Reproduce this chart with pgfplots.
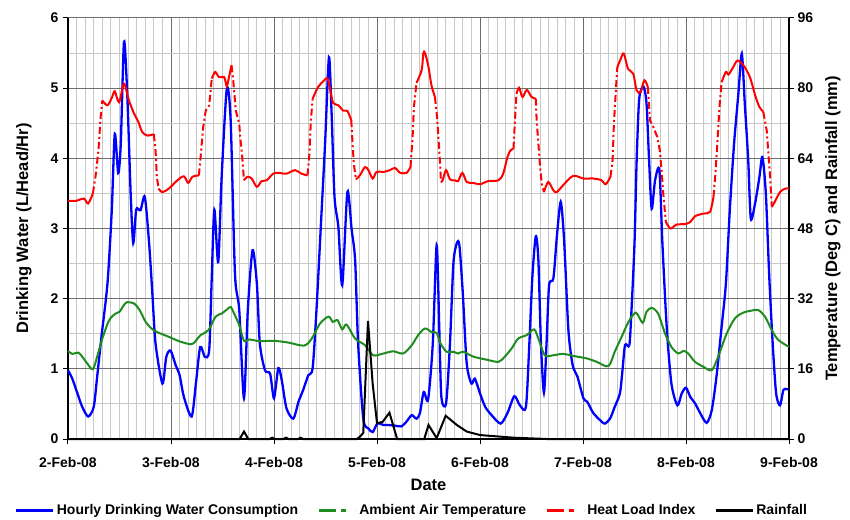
\documentclass[border=0pt]{standalone}
\usepackage{fontspec}
\setmainfont{Liberation Sans}
\usepackage{pgfplots}
\pgfplotsset{compat=1.18}

\definecolor{hwblue}{RGB}{0,0,255}
\definecolor{airgreen}{RGB}{30,140,30}
\definecolor{hlired}{RGB}{255,0,0}
\definecolor{gridmajor}{RGB}{110,110,110}
\definecolor{gridminor}{RGB}{200,200,200}

\pgfplotsset{
  base/.style={
    scale only axis, width=721pt, height=421pt,
    xmin=0, xmax=168,
    xtick={0,24,...,168},
    tick align=outside,
    major tick length=5pt, minor tick length=0pt,
    tick style={black, line width=1pt},
    tick label style={font=\fontsize{14}{16}\selectfont\bfseries},
    label style={font=\fontsize{16.5}{19}\selectfont\bfseries},
    /pgf/number format/assume math mode=true,
    axis line style={black, line width=1.2pt},
    clip=false,
  },
}

\begin{document}
\begin{tikzpicture}
\useasboundingbox (-68pt,-80pt) rectangle (782pt,439pt);

% primary axis: drinking water
\begin{axis}[base,
  axis x line*=bottom, axis y line*=left,
  ymin=0, ymax=6, ytick={0,1,...,6},
  minor x tick num=11, minor y tick num=1,
  grid=both,
  major grid style={gridmajor, line width=1pt},
  minor grid style={gridminor, line width=1pt},
  xticklabels={2-Feb-08,3-Feb-08,4-Feb-08,5-Feb-08,6-Feb-08,7-Feb-08,8-Feb-08,9-Feb-08},
  xticklabel style={yshift=-10pt},
  yticklabel style={xshift=-1pt},
  xlabel={Date},
  xlabel style={at={(axis description cs:0.5,-0.109)}, anchor=center},
  ylabel={Drinking Water (L/Head/Hr)},
  ylabel style={at={(axis description cs:-0.061,0.5)}, anchor=center},
]
\addplot[hwblue, line width=2.3pt, smooth, tension=0.45] coordinates {
(0,0.98) (1,0.86) (2.2,0.65) (3.3,0.46) (4.7,0.32) (6,0.46) (6.8,0.89) (7.8,1.46)
(9.2,2.22) (10.2,3.26) (10.9,4.35) (11.7,3.79) (12.3,4.21) (13.05,5.66) (13.8,4.92)
(14.6,3.5) (15.2,2.79) (15.9,3.27) (16.9,3.26) (17.9,3.45) (18.9,2.79) (19.7,2.03)
(20.4,1.36) (22,0.79) (22.9,1.17) (23.9,1.26) (25.1,1.05) (26,0.91) (27,0.6)
(28.8,0.32) (29.8,0.79) (30.8,1.31) (31.9,1.17) (32.9,1.27) (33.5,2.31) (34.1,3.27)
(35,2.52) (35.8,3.73) (37,4.99) (37.9,4.54) (38.9,2.36) (39.9,1.84) (41,0.58)
(41.9,1.84) (43,2.69) (44,2.22) (44.7,1.36) (45.9,0.98) (47.1,0.93) (48,0.58)
(49,1.01) (49.8,0.84) (50.9,0.44) (52.5,0.29) (53.7,0.53) (54.8,0.7) (56,0.91)
(57,1.01) (57.9,1.84) (58.9,3.02) (59.9,4.21) (60.8,5.44) (61.4,4.68) (62.1,3.45)
(63,3.02) (63.9,2.19) (65.1,3.52) (66.1,2.98) (66.9,2.55) (67.6,1.36) (68.8,0.29)
(70,0.15) (71,0.10) (72.1,0.22) (73.5,0.2) (74.6,0.2) (76.2,0.19) (77.7,0.18)
(78.9,0.25) (80.1,0.34) (81.2,0.29) (82,0.37) (82.9,0.67) (83.9,0.56) (85,1.36)
(85.9,2.76) (86.5,1.6) (87,0.6) (88.1,0.51) (89,1.36) (89.8,2.5) (90.6,2.79)
(91.2,2.76) (92,2.07) (92.9,1.08) (94,0.79) (94.8,0.86) (96,0.65) (97.2,0.46)
(98.7,0.34) (100.8,0.22) (102.4,0.37) (104,0.61) (105.3,0.48) (106.7,0.46)
(107.5,1.36) (108.2,2.31) (109,2.89) (109.6,2.55) (110.2,1.36) (110.9,0.66)
(111.5,1.36) (112.1,2.19) (113.1,2.29) (113.9,2.88) (114.8,3.38) (115.6,2.83)
(116.6,1.55) (117.6,1.05) (118.7,0.89) (120.1,0.58) (121,0.53) (122.4,0.37)
(124.3,0.25) (125.1,0.22) (126.3,0.29) (127.4,0.46) (128.6,0.65) (129.2,0.98)
(129.8,1.34) (130.8,1.34) (131.3,1.84) (132,2.79) (132.5,3.97) (133.1,4.85)
(134.1,5.02) (134.8,4.78) (135.4,3.97) (136,3.28) (136.8,3.69) (137.8,3.83)
(138.5,2.79) (139.5,1.6) (140.6,0.79) (142,0.48) (143,0.65) (144,0.73) (145,0.6)
(146.1,0.51) (147.3,0.37) (148.8,0.23) (150,0.41) (151.1,0.89) (152.3,1.6)
(153.3,2.22) (154.2,3.26) (155.2,4.21) (156.2,4.92) (157,5.49) (157.7,4.78)
(158.5,3.97) (159.1,3.14) (160.1,3.36) (161.1,3.73) (161.8,4.02) (162.6,3.5)
(163.4,2.31) (164.2,1.36) (165,0.65) (165.9,0.48) (166.7,0.7) (167.5,0.71) (168,0.71)
};
\end{axis}

% secondary axis: temperature, heat load index, rainfall
\begin{axis}[base,
  axis x line=none, axis y line*=right,
  ymin=0, ymax=96, ytick={0,16,...,96},
  ylabel={Temperature (Deg C) and Rainfall (mm)},
  ylabel style={at={(axis description cs:1.061,0.5)}, anchor=center},
  unbounded coords=jump,
  legend image code/.code={\draw[#1] (0pt,0pt) -- (37pt,0pt);},
  legend columns=4,
  legend style={at={(axis description cs:0.477,-0.169)}, anchor=center,
    draw=none, fill=none, font=\fontsize{14}{16}\selectfont\bfseries,
    /tikz/every even column/.append style={column sep=17pt}},
]
\addlegendimage{hwblue, line width=3pt}
\addlegendentry{Hourly Drinking Water Consumption}
\addlegendimage{airgreen, line width=3pt, dash pattern=on 17pt off 5pt on 5pt off 10pt}
\addlegendentry{Ambient Air Temperature}
\addlegendimage{hlired, line width=3pt, dash pattern=on 17pt off 5pt on 5pt off 10pt}
\addlegendentry{Heat Load Index}
\addlegendimage{black, line width=3pt}
\addlegendentry{Rainfall}

% ambient air temperature
\addplot[airgreen, line width=2pt, smooth, forget plot] coordinates {
(0,20.1) (1,19.4) (2.4,19.7) (3.3,18.8) (4.5,17.2) (5.8,15.9) (6.8,18.8) (8,22.9)
(9.6,27.1) (11.1,28.6) (12,29.0) (13,30.5) (13.8,31.2) (15.4,30.9) (16.7,29.4)
(18.1,26.7) (19.7,25.0) (21.2,24.2) (23.5,23.3) (25.9,22.3) (28.6,21.6) (29.6,22.2)
(30.9,23.7) (32.7,24.8) (34.4,27.9) (35.8,28.6) (37,29.5) (37.9,30.1) (38.7,28.6)
(39.9,26.0) (41,22.4) (42.2,22.7) (44.7,22.3) (47.8,22.4) (51.3,22.0) (55,21.3)
(56.8,22.9) (58.7,26.3) (60.7,27.9) (61.7,26.7) (62.8,27.1) (63.9,25.0) (64.9,26.1)
(66.9,22.9) (69.2,21.4) (71.1,19.1) (73.5,19.5) (75.8,20.0) (78.1,19.5) (80.1,21.4)
(81.6,23.7) (83.2,25.2) (84.7,24.4) (85.9,24.2) (86.8,21.8) (88.2,19.9) (89.8,19.9)
(90.9,19.5) (92.1,19.9) (94.4,18.8) (97.5,18.1) (100.3,17.6) (101.8,18.8) (103.4,20.7)
(104.9,22.9) (106.9,23.7) (108.6,25.0) (109.6,22.9) (111.1,19.1) (113.1,19.1)
(115.4,19.4) (118.5,18.8) (120.8,18.4) (123.2,17.6) (125.9,16.6) (127.4,19.9)
(129,23.3) (130.6,26.7) (132.3,28.8) (133.9,26.5) (134.8,29.0) (136,29.9) (137.5,28.6)
(139.1,24.1) (140.6,21.0) (142.2,19.5) (143.4,20.1) (144.5,19.5) (146.1,17.6)
(148,16.5) (150,15.7) (151.5,18.8) (153.5,24.1) (155.4,27.5) (157.3,28.8) (158.9,29.2)
(160.8,29.4) (162.4,27.9) (164,24.8) (165.5,22.6) (168,21.0)
};

% heat load index: gentle parts solid
\addplot[hlired, line width=2pt, smooth, forget plot] coordinates {
(0,54.3) (1.8,54.3) (3.7,54.8) (4.7,53.7) (5.8,56.0) (6,nan)
(8,77.2) (9.2,76.1) (10.3,78.0) (10.9,79.3) (11.9,76.8) (13.05,81.0) (14.2,77.2)
(15.4,74.2) (16.4,72.3) (17.3,70.0) (18.5,69.2) (20,69.5) (20.2,nan)
(21.1,57.1) (22,56.3) (23.5,57.1) (25.5,59.0) (27,59.9) (28,58.4) (29,59.8) (30.5,60.1) (30.7,nan)
(33.5,82.2) (34.3,83.7) (35.2,82.5) (36.4,82.5) (37,80.4) (37.5,82.5) (38.1,85.2) (38.3,nan)
(41,59.0) (41.8,59.8) (42.8,59.4) (44,57.5) (45.1,58.8) (46.3,59.0) (47.8,60.5) (49,60.7)
(50.9,60.5) (52.9,61.3) (54.4,60.5) (55.8,60.1) (56,nan)
(57,77.6) (58.3,80.3) (59.5,81.6) (60.5,82.2) (61.2,79.1) (61.8,76.6) (63,76.1)
(64.1,74.9) (65.1,74.8) (66,72.7) (66.2,nan)
(67.1,59.2) (68,60.1) (69.2,62.0) (70,61.3) (71,59.4) (71.9,60.9) (73.5,60.9) (75,61.3)
(76.2,61.8) (77.4,60.7) (78.9,60.7) (79.8,62.0) (80,nan)
(81.2,81.2) (82.4,84.1) (82.8,87.9) (83.2,88.0) (84,84.8) (84.7,80.6) (85.5,78.0) (85.7,nan)
(86.9,58.6) (87.3,59.0) (88.1,61.3) (89,59.2) (90.2,59.0) (90.9,58.8) (91.9,60.7)
(92.9,58.6) (94.4,58.4) (96,58.1) (97.9,58.8) (100.3,59.0) (101.4,60.5) (102.4,64.3)
(103.1,65.8) (103.8,66.2) (104,nan)
(104.5,78.7) (105.1,80.1) (105.9,78.0) (106.9,79.6) (108,78.0) (109,77.6) (109.1,nan)
(110.9,56.3) (111.9,58.6) (113.1,56.7) (113.9,56.3) (115.4,57.9) (117.7,60.0)
(120.1,59.4) (122.4,59.4) (124.3,59.0) (125.3,58.1) (126.4,59.8) (126.6,nan)
(128,84.8) (128.8,86.7) (129.5,87.9) (130.5,84.4) (131.7,83.3) (132.5,79.5)
(133.4,79.1) (134.3,81.8) (135.1,80.3) (135.3,nan)
(139.3,49.5) (140.4,48.0) (141.8,48.9) (143.8,49.0) (145,49.5) (146.1,50.8) (148,51.4)
(149.6,51.8) (150.4,55.2) (150.6,nan)
(152.3,81.4) (153.3,83.7) (153.9,83.1) (155,84.8) (156,86.3) (157.4,85.2) (158.9,82.5)
(160.1,78.4) (161.1,75.7) (162,74.6) (162.2,nan)
(164,52.9) (164.7,54.1) (165.9,56.3) (167.1,57.1) (168,57.1)
};
% heat load index: steep parts dash-dot
\addplot[hlired, line width=2pt, dash pattern=on 7pt off 3pt on 2pt off 3pt, forget plot] coordinates {
(5.8,56.0) (6.4,59.8) (7.1,65.8) (7.6,73.4) (8,77.2) (8.1,nan)
(20,69.5) (20.4,65.8) (20.7,59.8) (21.1,57.1) (21.2,nan)
(30.5,60.1) (30.9,64.3) (31.5,71.1) (32.1,74.9) (32.9,76.1) (33.5,82.2) (33.6,nan)
(38.1,85.2) (38.5,81.8) (39.1,74.9) (39.9,71.9) (40.2,68.1) (40.6,64.3) (41,59.0) (41.1,nan)
(55.8,60.1) (56.2,64.3) (56.6,72.7) (57,77.6) (57.1,nan)
(66,72.7) (66.3,67.4) (66.6,62.8) (67.1,59.2) (67.2,nan)
(79.8,62.0) (80.3,68.9) (80.6,75.7) (81.2,81.2) (81.3,nan)
(85.5,78.0) (86,73.4) (86.4,67.4) (86.7,62.8) (86.9,58.6) (87,nan)
(103.8,66.2) (104.1,71.9) (104.5,78.7) (104.6,nan)
(109,77.6) (109.2,72.7) (109.6,67.4) (110,62.0) (110.4,58.2) (110.9,56.3) (111,nan)
(126.4,59.8) (126.9,63.6) (127.2,71.9) (127.7,80.3) (128,84.8) (128.1,nan)
(135.1,80.3) (135.6,72.7) (136.4,71.1) (137.3,68.9) (137.9,65.8) (138.3,61.3)
(138.7,56.0) (139.3,49.5) (139.4,nan)
(150.4,55.2) (150.8,59.8) (151.3,67.4) (151.8,75.7) (152.3,81.4) (152.4,nan)
(162,74.6) (162.8,70.4) (163.2,65.1) (163.6,59.8) (164,52.9)
};

% rainfall
\addplot[black, line width=2pt, forget plot] coordinates {
(0,0) (40,0) (41,1.7) (42,0) (47,0) (47.6,0.3) (48.2,0) (50.2,0) (50.8,0.3) (51.4,0)
(53.6,0) (54.2,0.3) (54.8,0) (67.3,0) (68,0.5) (68.8,1.4) (69.9,26.9) (71,12.5)
(72,3.6) (73.3,3.9) (74.9,6.0) (76.7,0) (83,0) (84,3.2) (85.9,0.2) (88,5.3)
(90.6,3.2) (92.9,1.7) (96,0.9) (99.9,0.6) (103.8,0.3) (107.7,0.15) (111.5,0) (168,0)
};
\end{axis}
\end{tikzpicture}
\end{document}
